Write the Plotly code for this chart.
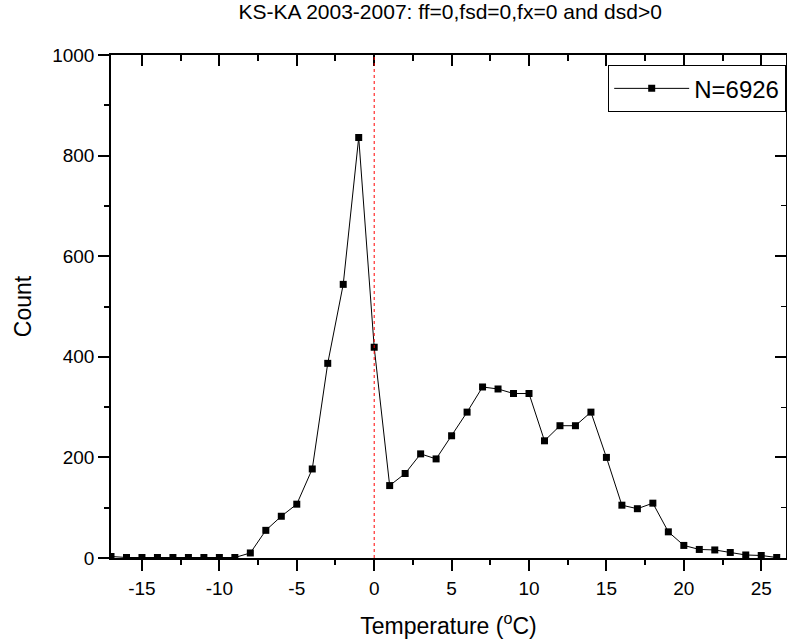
import plotly.graph_objects as go

temps = list(range(-17, 27))
counts = [3, 1, 1, 1, 1, 1, 1, 1, 1,
          10, 55, 83, 107, 177, 387, 544, 836,
          419, 144,
          168, 207, 197, 243, 290, 340, 336, 327, 327,
          233, 263, 263, 290, 200, 105, 98, 109,
          52, 25, 17, 16, 11, 6, 5, 1]
series_name = "N=6926"
title_text = "KS-KA 2003-2007: ff=0,fsd=0,fx=0 and dsd>0"
x_tickvals = [-15, -10, -5, 0, 5, 10, 15, 20, 25]
x_ticktext = ["-15", "-10", "-5", "0", "5", "10", "15", "20", "25"]
y_tickvals = [0, 200, 400, 600, 800, 1000]
x_range = [-17, 26.6]
y_range = [0, 1000]

FONT = "Arial, Liberation Sans, sans-serif"

fig = go.Figure()
fig.add_trace(go.Scatter(
    x=temps, y=counts, mode="lines+markers", name=series_name,
    line=dict(color="black", width=1),
    marker=dict(symbol="square", size=7, color="black"),
))
# helper invisible trace to activate mirror axes (top/right)
fig.add_trace(go.Scatter(
    x=[x_range[0]], y=[y_range[0]], xaxis="x2", yaxis="y2",
    mode="markers", marker=dict(opacity=0), showlegend=False, hoverinfo="skip",
))

fig.add_shape(type="line", x0=0, x1=0, xref="x", y0=0, y1=1, yref="paper",
              line=dict(color="red", width=1, dash="dot"))

axis_common = dict(showline=True, linecolor="black", linewidth=1.5,
                   showgrid=False, zeroline=False, tickcolor="black",
                   tickwidth=1.5, ticklen=11)

fig.update_layout(
    width=787, height=641,
    margin=dict(l=111, r=1, t=55, b=83),
    paper_bgcolor="white", plot_bgcolor="white",
    font=dict(family=FONT, color="black"),
    title=dict(text=title_text, x=0.572, xanchor="center", y=0.993, yanchor="top",
               font=dict(size=21, family=FONT, color="black")),
    xaxis=dict(range=x_range, ticks="outside", tickmode="array",
               tickvals=x_tickvals, ticktext=x_ticktext,
               tickfont=dict(size=19), ticklabelstandoff=1,
               title=dict(text="Temperature (<sup>o</sup>C)", font=dict(size=23), standoff=20),
               minor=dict(dtick=2.5, tick0=0, ticklen=5, ticks="outside", tickcolor="black", tickwidth=1.5),
               **axis_common),
    yaxis=dict(range=y_range, ticks="outside", tickmode="array", tickvals=y_tickvals,
               tickfont=dict(size=19),
               title=dict(text="Count", font=dict(size=23), standoff=14),
               minor=dict(dtick=100, ticklen=5, ticks="outside", tickcolor="black", tickwidth=1.5),
               **axis_common),
    xaxis2=dict(range=x_range, overlaying="x", side="top", ticks="inside", dtick=5, tick0=0,
                showticklabels=False,
                minor=dict(dtick=2.5, tick0=0, ticklen=6, ticks="inside", tickcolor="black", tickwidth=1.5),
                **axis_common),
    yaxis2=dict(range=y_range, overlaying="y", side="right", ticks="inside", dtick=200,
                showticklabels=False,
                minor=dict(dtick=100, ticklen=5, ticks="inside", tickcolor="black", tickwidth=1),
                **axis_common),
    legend=dict(x=1, xanchor="right", y=0.98, yanchor="top",
                bordercolor="black", borderwidth=1.2, bgcolor="white",
                itemwidth=75,
                font=dict(size=24, family=FONT)),
    showlegend=True,
)

fig.write_html("out.html")
